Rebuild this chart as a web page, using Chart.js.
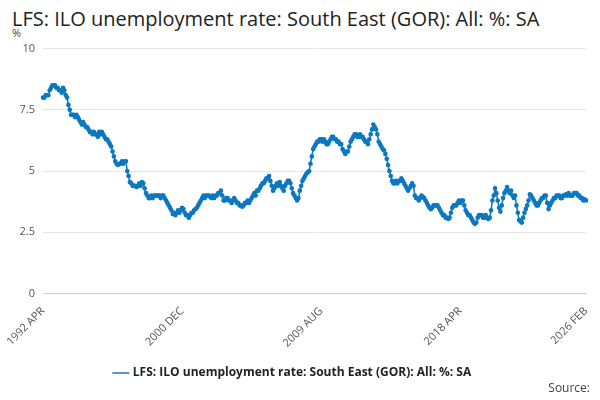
<!DOCTYPE html>
<html><head><meta charset="utf-8">
<script src="https://cdn.jsdelivr.net/npm/chart.js@4"></script>
<style>
body{margin:0;background:#fff;font-family:"Open Sans",sans-serif;}
#wrap{position:relative;width:600px;height:400px;}
h1{position:absolute;left:12px;top:5px;margin:0;font-size:20px;font-weight:normal;color:#222;}
#unit{position:absolute;left:12px;top:25px;font-size:11px;color:#444;}
#src{position:absolute;right:10px;bottom:4px;font-size:12px;color:#444;}
#cv{position:absolute;left:0;top:34px;}
</style></head><body>
<div id="wrap">
<h1>LFS: ILO unemployment rate: South East (GOR): All: %: SA</h1>
<div id="unit">%</div>
<canvas id="cv" width="600" height="355"></canvas>
<div id="src">Source:</div>
</div>
<script>
var seriesName = 'LFS: ILO unemployment rate: South East (GOR): All: %: SA';
var startYear = 1992, startMonth = 3; // April
var tickIdx = [0, 104, 208, 312, 406];
var yTicks = [0, 2.5, 5, 7.5, 10];
var values = [
8.0,8.0,8.1,8.1,8.1,8.3,8.4,8.5,8.5,8.5,8.4,8.4,
8.3,8.3,8.2,8.4,8.3,8.1,8.0,7.7,7.5,7.3,7.3,7.3,
7.2,7.3,7.2,7.1,7.0,6.9,7.0,6.9,6.8,6.8,6.7,6.6,
6.6,6.5,6.6,6.5,6.5,6.4,6.6,6.5,6.6,6.5,6.4,6.3,
6.3,6.2,6.1,6.0,5.8,5.6,5.4,5.3,5.25,5.3,5.3,5.4,
5.3,5.4,5.4,5.0,4.8,4.55,4.5,4.4,4.4,4.4,4.35,4.4,
4.5,4.4,4.55,4.5,4.3,4.1,4.0,3.9,3.9,4.0,3.9,4.0,
4.0,4.0,4.0,4.0,3.9,4.0,4.0,3.9,3.8,3.7,3.6,3.5,
3.4,3.25,3.3,3.2,3.3,3.4,3.3,3.4,3.5,3.45,3.3,3.2,
3.2,3.1,3.2,3.3,3.3,3.4,3.45,3.5,3.6,3.7,3.8,3.9,
4.0,3.9,4.0,4.0,4.0,3.95,3.9,4.0,3.9,4.0,4.0,4.1,
4.1,4.2,4.0,3.8,3.8,3.9,3.9,3.8,3.8,3.7,3.8,3.9,
3.8,3.7,3.7,3.6,3.6,3.55,3.6,3.7,3.7,3.8,3.7,3.8,
3.9,4.0,4.1,4.0,4.2,4.2,4.3,4.4,4.5,4.5,4.6,4.7,
4.7,4.8,4.6,4.4,4.2,4.3,4.4,4.5,4.4,4.55,4.4,4.3,
4.2,4.4,4.5,4.6,4.6,4.5,4.3,4.1,4.0,3.9,3.8,3.9,
4.2,4.4,4.6,4.7,4.8,4.9,4.95,5.0,5.3,5.6,5.9,6.0,
6.1,6.2,6.2,6.3,6.3,6.2,6.3,6.2,6.1,6.1,6.2,6.3,
6.4,6.4,6.3,6.3,6.2,6.2,6.1,6.1,5.9,5.8,5.7,5.8,
5.8,6.0,6.2,6.3,6.4,6.5,6.5,6.4,6.4,6.5,6.4,6.4,
6.3,6.2,6.2,6.1,6.3,6.5,6.7,6.9,6.8,6.7,6.5,6.2,
6.1,6.0,5.9,5.85,5.7,5.5,5.25,5.0,4.8,4.6,4.5,4.5,
4.6,4.5,4.6,4.6,4.7,4.6,4.5,4.4,4.3,4.2,4.3,4.4,
4.5,4.4,4.0,3.9,3.9,3.8,3.9,4.0,3.95,3.9,3.8,3.7,
3.6,3.5,3.45,3.5,3.6,3.6,3.6,3.6,3.5,3.4,3.3,3.2,
3.2,3.1,3.1,3.05,3.1,3.3,3.5,3.6,3.6,3.6,3.7,3.8,
3.7,3.8,3.8,3.6,3.4,3.3,3.2,3.2,3.1,3.0,2.9,2.85,
2.9,3.1,3.2,3.2,3.2,3.1,3.1,3.2,3.1,3.05,3.1,3.4,
3.8,4.0,4.3,4.1,3.8,3.5,3.35,3.6,3.9,4.1,4.2,4.35,
4.2,4.1,4.2,4.0,3.9,4.0,3.6,3.3,3.0,2.95,2.9,3.1,
3.3,3.45,3.6,3.8,4.05,4.0,3.9,3.8,3.7,3.6,3.6,3.7,
3.8,3.9,3.9,4.0,4.0,3.7,3.45,3.6,3.7,3.8,3.9,3.9,
4.0,4.0,4.0,3.9,3.9,4.0,4.0,4.05,4.0,4.1,4.0,4.0,
4.0,4.1,4.1,4.1,4.0,4.0,3.9,3.9,3.8,3.85,3.8
];

var months = ['JAN','FEB','MAR','APR','MAY','JUN','JUL','AUG','SEP','OCT','NOV','DEC'];
var labels = values.map(function(v, i) {
  var m = startMonth + i;
  return (startYear + Math.floor(m / 12)) + ' ' + months[m % 12];
});

new Chart(document.getElementById('cv'), {
  type: 'line',
  data: { labels: labels, datasets: [{
    label: seriesName, data: values, borderColor: '#0b78c0', backgroundColor: '#0b78c0',
    borderWidth: 1.5, pointRadius: 1.6, pointHoverRadius: 3, tension: 0
  }] },
  options: {
    responsive: false, animation: false,
    layout: { padding: { left: 0, right: 14, top: 0, bottom: 0 } },
    plugins: {
      legend: { position: 'bottom', labels: { color: '#222', font: { family: 'Open Sans', size: 12, weight: 'bold' }, usePointStyle: true, pointStyle: 'line', boxWidth: 20, padding: 14 } },
      tooltip: { enabled: false }
    },
    scales: {
      x: {
        grid: { display: false, drawTicks: true },
        border: { color: '#ccc' },
        ticks: {
          autoSkip: false, maxRotation: 45, minRotation: 45, color: '#555', font: { family: 'Open Sans', size: 11 },
          callback: function(v, i) { return tickIdx.indexOf(i) >= 0 ? labels[i] : null; }
        }
      },
      y: {
        min: 0, max: 10,
        afterBuildTicks: function(ax) { ax.ticks = yTicks.map(function(t) { return { value: t }; }); },
        afterFit: function(ax) { ax.width = 43; },
        grid: { color: '#e4e4e4', drawTicks: false },
        border: { display: false },
        ticks: { color: '#555', padding: 8, font: { family: 'Open Sans', size: 11 } }
      }
    }
  }
});
</script>
</body></html>
